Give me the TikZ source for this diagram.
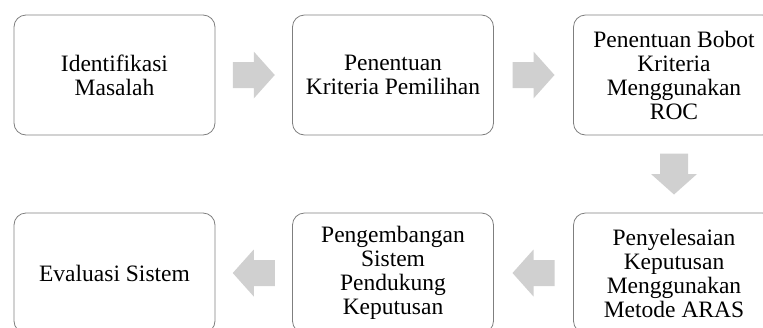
\documentclass[tikz,border=0pt]{standalone}
\usepackage{fontspec}
\setmainfont{Liberation Serif}
\definecolor{boxline}{HTML}{7F7F7F}
\definecolor{arrowfill}{HTML}{D0D0D0}
\begin{document}
\begin{tikzpicture}[x=1pt,y=-1pt,
  stepbox/.style={draw=boxline, line width=0.8pt, rounded corners=12pt,
    minimum width=201pt, minimum height=120pt, inner sep=0pt,
    align=center, font=\fontsize{23.5}{24}\selectfont},
  arrowshape/.style={fill=arrowfill, draw=none}]
\useasboundingbox (0,0) rectangle (763,327);
\clip (0,0) rectangle (763,327);
\node[stepbox] (b1) at (114.5,75) {Identifikasi\\Masalah};
\node[stepbox] (b2) at (393,75) {Penentuan\\Kriteria Pemilihan};
\node[stepbox] (b3) at (674,75) {Penentuan Bobot\\Kriteria\\Menggunakan\\ROC};
\node[stepbox] (b4) at (674,273) {Penyelesaian\\Keputusan\\Menggunakan\\Metode ARAS};
\node[stepbox] (b5) at (393,273) {Pengembangan\\Sistem\\Pendukung\\Keputusan};
\node[stepbox] (b6) at (114.5,273) {Evaluasi Sistem};
% right arrows
\path (b1.east) -- (b2.west) coordinate[midway] (a1);
\path (b2.east) -- (b3.west) coordinate[midway] (a2);
\path (b3.south) -- (b4.north) coordinate[midway] (a3);
\path (b4.west) -- (b5.east) coordinate[midway] (a4);
\path (b5.west) -- (b6.east) coordinate[midway] (a5);
\foreach \c in {a1,a2}{
  \fill[arrowshape] ([shift={(-21,-13)}]\c) -- ([shift={(0,-13)}]\c) -- ([shift={(0,-23.5)}]\c)
    -- ([shift={(21,0)}]\c) -- ([shift={(0,23.5)}]\c) -- ([shift={(0,13)}]\c)
    -- ([shift={(-21,13)}]\c) -- cycle;
}
\foreach \c in {a4,a5}{
  \fill[arrowshape] ([shift={(21,-13)}]\c) -- ([shift={(0,-13)}]\c) -- ([shift={(0,-23.5)}]\c)
    -- ([shift={(-21,0)}]\c) -- ([shift={(0,23.5)}]\c) -- ([shift={(0,13)}]\c)
    -- ([shift={(21,13)}]\c) -- cycle;
}
\fill[arrowshape] ([shift={(-14,-20.5)}]a3) -- ([shift={(14,-20.5)}]a3) -- ([shift={(14,0)}]a3)
    -- ([shift={(23,0)}]a3) -- ([shift={(0,20.5)}]a3) -- ([shift={(-23,0)}]a3)
    -- ([shift={(-14,0)}]a3) -- cycle;
\end{tikzpicture}
\end{document}
